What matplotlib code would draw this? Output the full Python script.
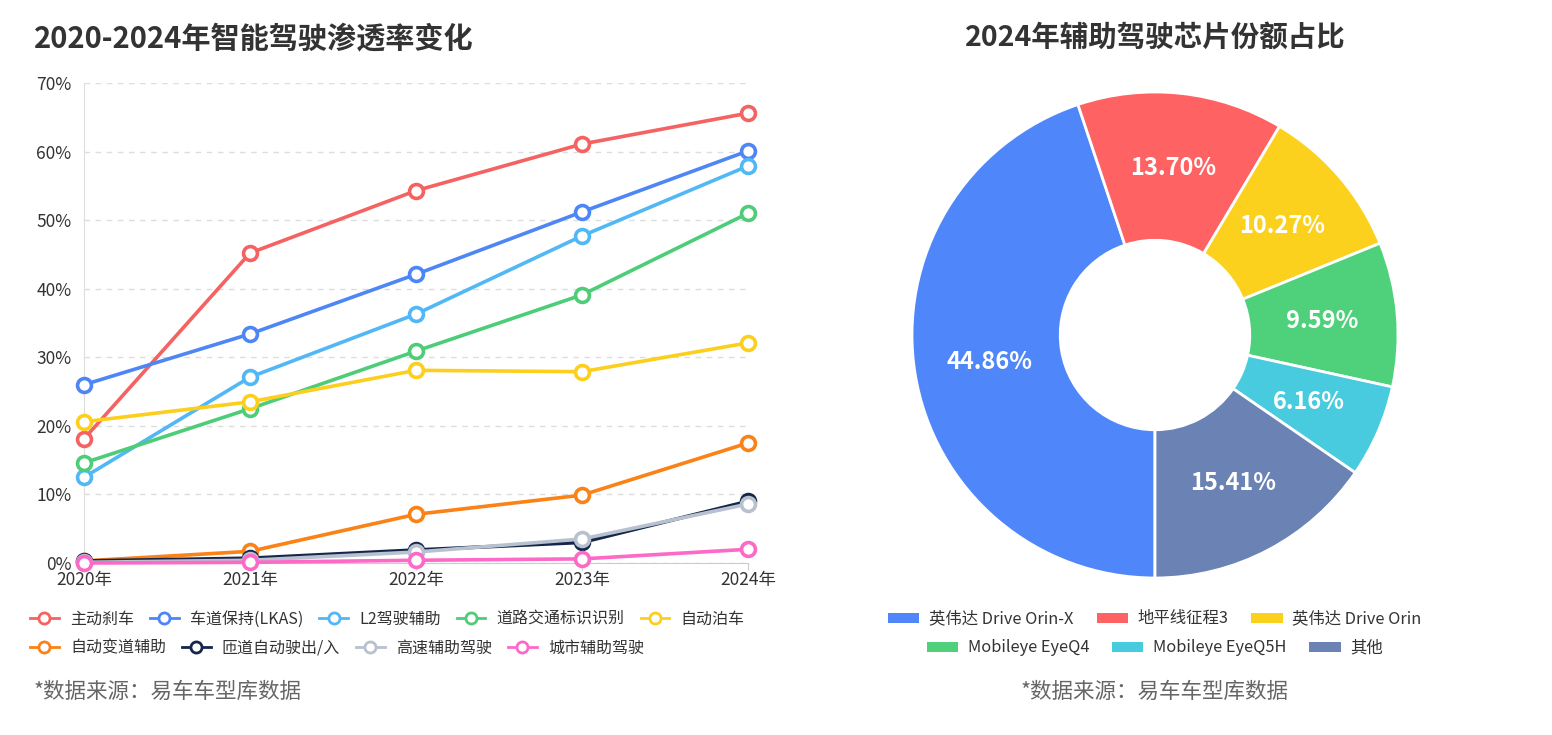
import numpy as np
import matplotlib
matplotlib.use('Agg')
import matplotlib.pyplot as plt
from matplotlib.lines import Line2D
from matplotlib.patches import Patch
from matplotlib.ticker import FuncFormatter

plt.rcParams['font.family'] = ['Noto Sans CJK SC', 'DejaVu Sans']

# line chart data (penetration, %)
years = ['2020年', '2021年', '2022年', '2023年', '2024年']
series_names = ['主动刹车', '车道保持(LKAS)', 'L2驾驶辅助', '道路交通标识识别', '自动泊车',
                '自动变道辅助', '匝道自动驶出/入', '高速辅助驾驶', '城市辅助驾驶']
brake = [18.1, 45.2, 54.3, 61.1, 65.6]
lkas = [26.0, 33.4, 42.1, 51.2, 60.1]
l2 = [12.5, 27.1, 36.3, 47.7, 57.9]
sign = [14.6, 22.5, 30.9, 39.1, 51.0]
parking = [20.6, 23.5, 28.1, 27.9, 32.1]
lane_change = [0.3, 1.7, 7.1, 9.9, 17.5]
ramp = [0.3, 0.7, 1.9, 3.0, 9.0]
highway = [0.1, 0.4, 1.6, 3.5, 8.6]
city = [0.0, 0.1, 0.4, 0.6, 2.0]
line_colors = ['#f56262', '#4e86f5', '#52b7f5', '#4dcd78', '#fccf1e',
               '#fb8217', '#15264a', '#b8c1cf', '#fc69c8']

# donut data (2024 share, %)
chip_names = ['英伟达 Drive Orin-X', '地平线征程3', '英伟达 Drive Orin',
              'Mobileye EyeQ4', 'Mobileye EyeQ5H', '其他']
chip_share = [44.86, 13.70, 10.27, 9.59, 6.16, 15.41]
pie_colors = ['#4f87fa', '#ff6262', '#fcd11e', '#4fd17b', '#48cbdf', '#6a83b4']

W, H = 1552, 735
fig = plt.figure(figsize=(W / 100, H / 100), dpi=100)

# ---------------- left: line chart ----------------
ax = fig.add_axes([84 / W, 1 - 563 / H, 664 / W, 480 / H])
all_series = [brake, lkas, l2, sign, parking, lane_change, ramp, highway, city]
x = np.arange(len(years))
for vals, name, c in zip(all_series, series_names, line_colors):
    ax.plot(x, vals, color=c, lw=2.6, marker='o', ms=10, mfc='white', mec=c, mew=2.6,
            label=name, clip_on=False, zorder=3)

ax.set_xlim(0, 4)
ax.set_ylim(0, 70)
ax.set_yticks(range(0, 71, 10))
ax.yaxis.set_major_formatter(FuncFormatter(lambda v, p: f'{int(v)}%'))
ax.set_xticks(x)
ax.set_xticklabels(years)
ax.grid(axis='y', color='#dddddd', ls=(0, (4, 4)), lw=1)
for s in ['top', 'right']:
    ax.spines[s].set_visible(False)
ax.spines['left'].set_color('#dddddd')
ax.spines['bottom'].set_color('#cccccc')
ax.tick_params(axis='y', length=0, labelsize=12.5, labelcolor='#333333', pad=9)
ax.tick_params(axis='x', length=5, color='#cccccc', labelsize=12.5, labelcolor='#333333', pad=1)

fig.text(34 / W, 1 - 38 / H, '2020-2024年智能驾驶渗透率变化', fontsize=21, fontweight='bold',
         color='#333333', va='center', ha='left')

handles = [Line2D([0], [0], color=c, lw=2, marker='o', ms=8, mfc='white', mec=c, mew=2)
           for c in line_colors]
leg_kw = dict(frameon=False, fontsize=11.5, handlelength=1.8, handletextpad=0.7,
              columnspacing=1.0, borderaxespad=0, borderpad=0, labelcolor='#333333')
fig.legend(handles[:5], series_names[:5], loc='center left', ncol=5,
           bbox_to_anchor=(30 / W, 1 - 619 / H), **leg_kw)
fig.legend(handles[5:], series_names[5:], loc='center left', ncol=4,
           bbox_to_anchor=(30 / W, 1 - 648 / H), **leg_kw)
fig.text(34 / W, 1 - 692 / H, '*数据来源：易车车型库数据', fontsize=15.5, color='#666666',
         va='center', ha='left')

# ---------------- right: donut ----------------
cx, cy, r = 1155, 335, 243
pax = fig.add_axes([(cx - r) / W, 1 - (cy + r) / H, 2 * r / W, 2 * r / H])
wedges, _ = pax.pie(chip_share, colors=pie_colors, startangle=-90, counterclock=False,
                    radius=1, wedgeprops=dict(width=0.61, edgecolor='white', linewidth=2))
pax.set_xlim(-1, 1)
pax.set_ylim(-1, 1)
pax.set_aspect('equal')
pax.axis('off')
for w, v in zip(wedges, chip_share):
    ang = np.deg2rad((w.theta1 + w.theta2) / 2)
    pax.text(0.69 * np.cos(ang), 0.69 * np.sin(ang), f'{v:.2f}%', color='white',
             fontsize=17, fontweight='bold', ha='center', va='center')

fig.text(1155 / W, 1 - 38 / H, '2024年辅助驾驶芯片份额占比', fontsize=20.5, fontweight='bold',
         color='#333333', va='center', ha='center')

phandles = [Patch(facecolor=c, edgecolor='none') for c in pie_colors]
pleg_kw = dict(frameon=False, fontsize=11.8, handlelength=1.9, handleheight=0.55,
               handletextpad=0.6, columnspacing=1.4, borderaxespad=0, borderpad=0,
               labelcolor='#333333')
fig.legend(phandles[:3], chip_names[:3], loc='center', ncol=3,
           bbox_to_anchor=(1155 / W, 1 - 619 / H), **pleg_kw)
fig.legend(phandles[3:], chip_names[3:], loc='center', ncol=3,
           bbox_to_anchor=(1155 / W, 1 - 648 / H), **pleg_kw)
fig.text(1155 / W, 1 - 692 / H, '*数据来源：易车车型库数据', fontsize=15.5, color='#666666',
         va='center', ha='center')

fig.savefig('out.png', dpi=100, facecolor='white')
